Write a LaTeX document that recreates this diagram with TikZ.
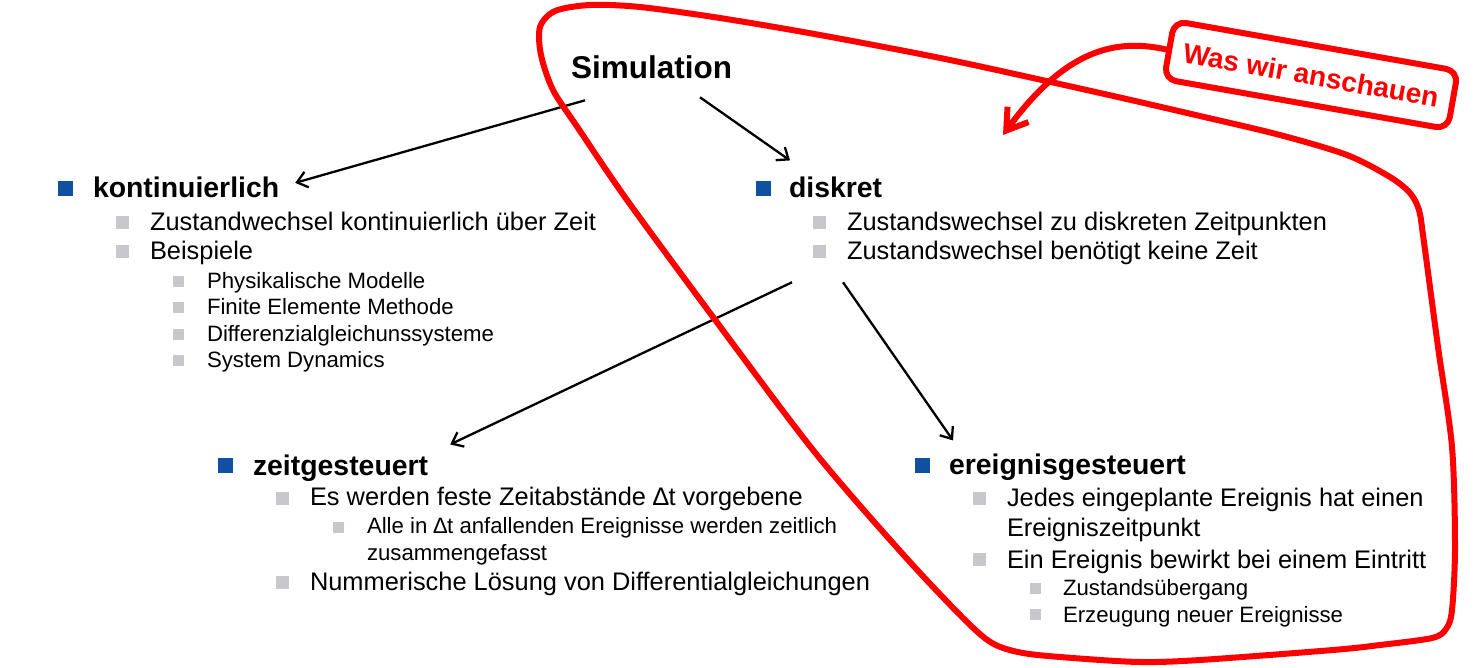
\documentclass[tikz,border=0pt]{standalone}
\usepackage{fontspec}
\setmainfont{Liberation Sans}
\usetikzlibrary{arrows.meta}
\definecolor{bblue}{RGB}{16,80,160}
\definecolor{bgray}{RGB}{200,200,204}
\definecolor{lred}{RGB}{255,0,0}
\begin{document}
\begin{tikzpicture}[x=1pt,y=-1pt,
 txt/.style={anchor=base west, inner sep=0pt, outer sep=0pt},
 h0/.style={txt, font=\fontsize{31.5}{36}\selectfont\bfseries},
 h1/.style={txt, font=\fontsize{28.4}{32}\selectfont\bfseries},
 l2/.style={txt, font=\fontsize{25.4}{30}\selectfont},
 l3/.style={txt, font=\fontsize{22.2}{27}\selectfont},
 sqA/.style={fill=bblue, minimum size=15pt, inner sep=0pt, outer sep=0pt},
 sqB/.style={fill=bgray, minimum size=13pt, inner sep=0pt, outer sep=0pt},
 sqC/.style={fill=bgray, minimum size=11pt, inner sep=0pt, outer sep=0pt},
 conn/.style={line width=2.3pt, -{Straight Barb[length=10pt,width=16pt]}},
 redline/.style={draw=lred, line width=6pt},
]
\useasboundingbox (0,0) rectangle (1482,667);

% Simulation
\node[h0] (sim) at (571,78) {Simulation};

% kontinuierlich
\node[sqA] (bk) at (65.5,188.5) {};
\node[h1] (kont) at (93,197) {kontinuierlich};
\node[sqB] (bk1) at (122.5,222) {};
\node[l2] (k1) at (150,230) {Zustandwechsel kontinuierlich über Zeit};
\node[sqB] (bk2) at (122.5,251) {};
\node[l2] (k2) at (150,259) {Beispiele};
\node[sqC] (bk21) at (178.5,281) {};
\node[l3] (k21) at (207,288) {Physikalische Modelle};
\node[sqC] (bk22) at (178.5,307) {};
\node[l3] (k22) at (207,314) {Finite Elemente Methode};
\node[sqC] (bk23) at (178.5,334) {};
\node[l3] (k23) at (207,341) {Differenzialgleichunssysteme};
\node[sqC] (bk24) at (178.5,360) {};
\node[l3] (k24) at (207,367) {System Dynamics};

% diskret
\node[sqA] (bd) at (763,188.5) {};
\node[h1] (disk) at (789,197) {diskret};
\node[sqB] (bd1) at (819,222) {};
\node[l2] (d1) at (847,230) {Zustandswechsel zu diskreten Zeitpunkten};
\node[sqB] (bd2) at (819,251) {};
\node[l2] (d2) at (847,259) {Zustandswechsel benötigt keine Zeit};

% zeitgesteuert
\node[sqA] (bz) at (225.5,465.5) {};
\node[h1] (zeit) at (253,475) {zeitgesteuert};
\node[sqB] (bz1) at (282,498) {};
\node[l2] (z1) at (310,505) {Es werden feste Zeitabstände ∆t vorgebene};
\node[sqC] (bz11) at (338.5,527) {};
\node[l3] (z11) at (367,533) {Alle in ∆t anfallenden Ereignisse werden zeitlich};
\node[l3] (z12) at (367,560) {zusammengefasst};
\node[sqB] (bz2) at (282,582) {};
\node[l2] (z2) at (310,590) {Nummerische Lösung von Differentialgleichungen};

% ereignisgesteuert
\node[sqA] (be) at (922.5,465.5) {};
\node[h1] (ereig) at (949,474) {ereignisgesteuert};
\node[sqB] (be1) at (979,498) {};
\node[l2] (e1) at (1007,506) {Jedes eingeplante Ereignis hat einen};
\node[l2] (e1b) at (1007,536) {Ereigniszeitpunkt};
\node[sqB] (be2) at (979,559) {};
\node[l2] (e2) at (1007,568) {Ein Ereignis bewirkt bei einem Eintritt};
\node[sqC] (be21) at (1035,588) {};
\node[l3] (e21) at (1063,595) {Zustandsübergang};
\node[sqC] (be22) at (1035,614) {};
\node[l3] (e22) at (1063,622) {Erzeugung neuer Ereignisse};

% black connectors
\draw[conn] ([shift={(14,22)}]sim.south west) -- ([shift={(16,-4)}]kont.east);
\draw[conn] ([shift={(-32,19)}]sim.south east) -- ([shift={(1,-16)}]disk.north west);
\draw[conn] ([shift={(-55,18)}]d2.south west) -- ([shift={(22,-10)}]zeit.north east);
\draw[conn] ([shift={(-4,18)}]d2.south west) -- ([shift={(4,-13)}]ereig.north west);

% red lasso
\draw[redline, line join=round] plot[smooth cycle, tension=0.5] coordinates {
 (590,5) (640,7) (720,18) (820,35) (950,60) (1100,93) (1200,116) (1280,135)
 (1347,155) (1390,177) (1410,193) (1419,210) (1423,235) (1438,347) (1452,447)
 (1455,547) (1452,610) (1446,629) (1432,638) (1380,645) (1333,650) (1200,660)
 (1140,662) (1073,658) (1023,653) (992,643) (962,617) (900,551)
 (813,450) (713,317) (627,200) (578,128) (553,90) (541,55) (540,27) (555,11)};

% callout
\node[redline, rounded corners=12pt, rotate=-10, minimum width=288pt,
 minimum height=59pt, text=lred, font=\fontsize{28}{32}\selectfont\bfseries,
 inner sep=0pt] (call) at (1311,75) {Was wir anschauen};
\coordinate (calltip) at (1003,135);
\draw[redline, line cap=round, -{Straight Barb[length=20pt,width=26pt]}]
 (call.west) .. controls (1115,38) and (1065,50) .. (calltip);
\end{tikzpicture}
\end{document}
